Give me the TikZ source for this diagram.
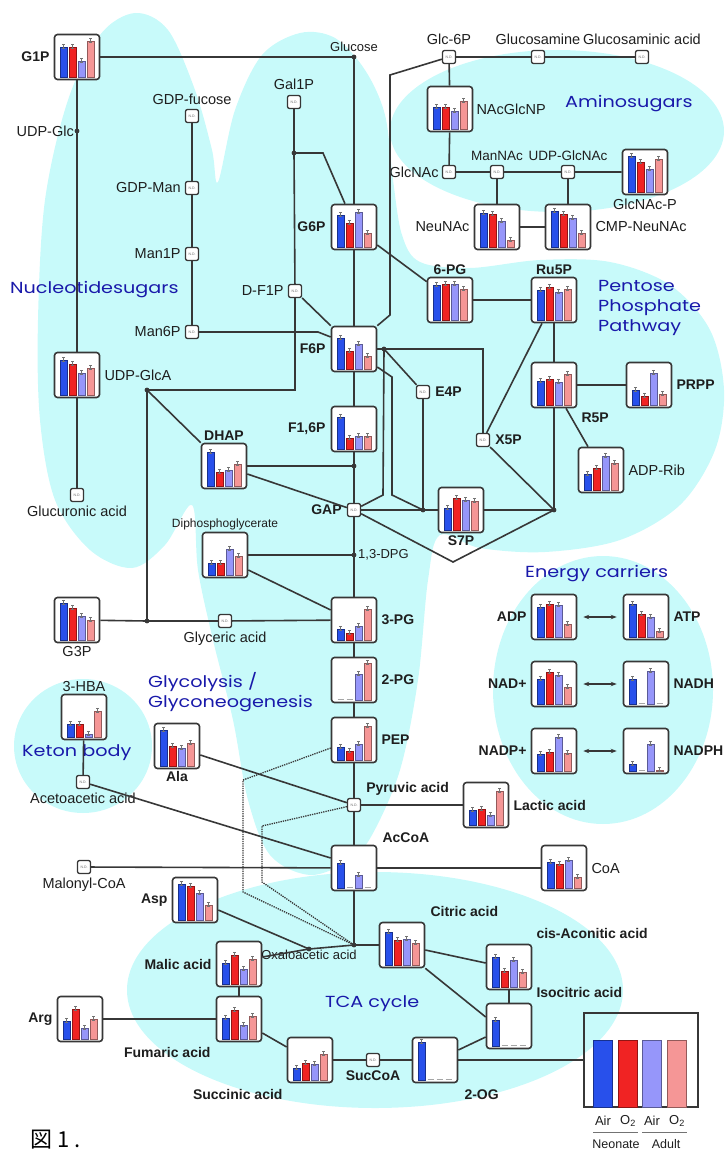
\documentclass[tikz,border=0pt]{standalone}
\usepackage{fontspec}
\setmainfont{Liberation Sans}
\newfontfamily\regionfont[FakeStretch=1.2]{Poppins}
\newfontfamily\jpfont{Noto Sans CJK JP}
\usetikzlibrary{positioning,arrows.meta}

\definecolor{linecol}{RGB}{55,55,55}
\definecolor{txtcol}{RGB}{30,30,30}
\definecolor{bgcyan}{RGB}{200,250,250}
\definecolor{regblue}{RGB}{25,25,170}
\definecolor{barblue}{RGB}{40,80,235}
\definecolor{barred}{RGB}{240,35,35}
\definecolor{barlav}{RGB}{150,150,250}
\definecolor{barpink}{RGB}{245,150,150}

\newcommand{\metbar}[4]{%
  \ifdim #3pt>0pt
    \filldraw[fill=#4, draw=#4!60!black, line width=0.4pt]
      ([xshift=#2pt-3.7pt, yshift=3.5pt]#1.south) rectangle ([xshift=#2pt+3.7pt, yshift=3.5pt+#3pt]#1.south);
    \draw[errbar] ([xshift=#2pt, yshift=1.5pt+#3pt]#1.south) -- ([xshift=#2pt, yshift=6pt+#3pt]#1.south);
  \else
    \draw[zerobar] ([xshift=#2pt-3pt, yshift=4.2pt]#1.south) -- ([xshift=#2pt+3pt, yshift=4.2pt]#1.south);
  \fi}
\newcommand{\metchart}[6]{%
  \node[chartbox] (#1) at (#2) {};
  \metbar{#1}{-13.5}{#3}{barblue}%
  \metbar{#1}{-4.5}{#4}{barred}%
  \metbar{#1}{4.5}{#5}{barlav}%
  \metbar{#1}{13.5}{#6}{barpink}}

\begin{document}
\begin{tikzpicture}[x=1pt, y=-1pt,
  chartbox/.style={draw=linecol, fill=white, rounded corners=3pt, line width=1.6pt, minimum size=45pt, inner sep=0pt},
  ndbox/.style={draw=linecol, fill=white, rounded corners=2pt, line width=1.3pt, minimum size=13pt, inner sep=0pt, font=\fontsize{3.5}{4}\selectfont, text=black!60},
  link/.style={draw=linecol, line width=1.6pt},
  dotline/.style={draw=linecol, line width=1.3pt, densely dotted},
  errbar/.style={draw=black!55, line width=0.4pt, {Bar[width=2.2pt]}-{Bar[width=2.2pt]}},
  zerobar/.style={draw=black!35, line width=0.8pt},
  dot/.style={fill=linecol},
  lab/.style={inner sep=1pt, text=txtcol, font=\fontsize{14.5}{16}\selectfont},
  blab/.style={inner sep=1pt, text=txtcol, font=\fontsize{14}{16}\selectfont\bfseries},
  slab/.style={inner sep=1pt, text=txtcol, font=\fontsize{13}{15}\selectfont},
  tlab/.style={inner sep=1pt, text=txtcol, font=\fontsize{13.5}{15}\selectfont},
  region/.style={text=regblue, font=\regionfont\fontsize{16}{20}\selectfont, align=left, anchor=west, inner sep=0pt},
  blob/.style={fill=bgcyan}]
\useasboundingbox (0,0) rectangle (725,1153);

\fill[blob] plot[smooth cycle, tension=0.55] coordinates {(132,568) (90,550) (55,500) (40,420) (38,320) (45,200) (68,100) (100,35) (135,13) (168,30) (195,90) (212,150) (218,182) (235,110) (262,55) (300,33) (335,38) (365,70) (385,115) (393,180) (402,235) (420,262) (470,268) (540,260) (610,262) (670,285) (710,330) (724,390) (715,450) (680,505) (620,540) (545,552) (480,548) (440,535) (428,580) (418,680) (400,770) (372,835) (350,860) (310,875) (270,855) (248,800) (233,720) (213,640) (198,570) (192,505) (165,545)};
\fill[blob] (557,131) ellipse [x radius=167pt, y radius=81pt];
\fill[blob] (603,690) ellipse [x radius=110pt, y radius=134pt];
\fill[blob] (83,746) ellipse [x radius=69pt, y radius=67pt];
\fill[blob] (375,990) ellipse [x radius=248pt, y radius=118pt];

\coordinate (glc) at (354,57);
\coordinate (udpglc) at (77,131);
\coordinate (gal) at (294,153);
\coordinate (galb) at (323,153);
\coordinate (m6b) at (318,332);
\coordinate (dfb) at (295,390);
\coordinate (dhapj) at (147,390);
\coordinate (g3pj) at (147,621);
\coordinate (f16j) at (354,466);
\coordinate (dpg) at (354,555);
\coordinate (f6pc) at (384,349);
\coordinate (f6pr) at (483,349);
\coordinate (f6b1) at (392,377);
\coordinate (f6b2) at (392,495);
\coordinate (gapb) at (383,495);
\coordinate (e4pj) at (423,510);
\coordinate (r5pj) at (554,510);
\coordinate (triv) at (453,562);
\coordinate (glcb1) at (390,75);
\coordinate (glcb2) at (390,315);
\coordinate (pepb1) at (243,780);
\coordinate (pepb2) at (243,892);
\coordinate (pyrb1) at (262,826);
\coordinate (pyrb2) at (262,882);
\coordinate (oaa) at (354,945);
\coordinate (oaa2) at (309,949);

\metchart{G1P}{77,57}{30}{30}{16}{36}
\metchart{UDPGlcA}{77,375}{35}{31}{22}{27}
\metchart{DHAP}{224,466}{34}{14}{16}{22}
\metchart{DPG}{225,555}{12}{12}{26}{19}
\metchart{G3P}{77,620}{37}{32}{24}{20}
\metchart{HBA}{84,717}{13}{13}{3}{26}
\metchart{Ala}{177,746}{36}{20}{18}{23}
\metchart{G6P}{354,227}{32}{24}{35}{14}
\metchart{NAcGlcNP}{450,109}{22}{22}{18}{28}
\metchart{F6P}{354,349}{31}{18}{25}{13}
\metchart{F16P}{354,429}{32}{11}{13}{13}
\metchart{S7P}{461,510}{22}{32}{30}{29}
\metchart{PG6}{450,300}{35}{36}{36}{31}
\metchart{Ru5P}{554,300}{30}{33}{28}{31}
\metchart{R5P}{554,385}{24}{26}{23}{31}
\metchart{PRPP}{649,385}{15}{9}{32}{11}
\metchart{ADPRib}{601,470}{16}{22}{34}{27}
\metchart{NeuNAc}{497,227}{34}{33}{26}{7}
\metchart{CMPNeuNAc}{568,227}{36}{33}{29}{14}
\metchart{GlcNAcP}{645,172}{36}{30}{23}{33}
\metchart{PG3}{354,620}{11}{7}{14}{31}
\metchart{PG2}{354,680}{0}{0}{26}{37}
\metchart{PEP}{354,740}{13}{9}{16}{34}
\metchart{AcCoA}{354,868}{25}{0}{13}{0}
\metchart{Lactic}{486,805}{15}{16}{10}{34}
\metchart{CoA}{564,868}{26}{24}{28}{11}
\metchart{ADP}{554,617}{30}{33}{32}{13}
\metchart{ATP}{646,617}{33}{23}{20}{6}
\metchart{NAD}{554,684}{25}{32}{29}{17}
\metchart{NADH}{646,684}{25}{0}{33}{0}
\metchart{NADP}{554,751}{17}{19}{34}{18}
\metchart{NADPH}{646,751}{7}{0}{27}{1}
\metchart{Asp}{195,900}{36}{34}{27}{15}
\metchart{Malic}{239,964}{21}{29}{15}{25}
\metchart{Fumaric}{239,1019}{21}{29}{14}{23}
\metchart{Arg}{80,1019}{18}{30}{11}{20}
\metchart{Succinic}{310,1060}{12}{17}{16}{26}
\metchart{OG}{435,1060}{38}{0}{0}{0}
\metchart{Citric}{402,945}{33}{25}{26}{22}
\metchart{cisAco}{509,967}{30}{16}{27}{15}
\metchart{Isocitric}{509,1026}{26}{0}{0}{0}

\node[ndbox] (GDPfuc) at (192,116) {N.D.};
\node[ndbox] (GDPMan) at (192,188) {N.D.};
\node[ndbox] (Man1P) at (192,254) {N.D.};
\node[ndbox] (Man6P) at (192,332) {N.D.};
\node[ndbox] (Gal1P) at (294,102) {N.D.};
\node[ndbox] (DF1P) at (295,291) {N.D.};
\node[ndbox] (Glc6P) at (449,57) {N.D.};
\node[ndbox] (Glcsamine) at (538,57) {N.D.};
\node[ndbox] (Glcsaminic) at (642,57) {N.D.};
\node[ndbox] (GlcNAc) at (449,172) {N.D.};
\node[ndbox] (ManNAc) at (497,172) {N.D.};
\node[ndbox] (UDPGlcNAc) at (568,172) {N.D.};
\node[ndbox] (E4P) at (423,392) {N.D.};
\node[ndbox] (X5P) at (483,440) {N.D.};
\node[ndbox] (GAP) at (354,510) {N.D.};
\node[ndbox] (Glucuronic) at (77,495) {N.D.};
\node[ndbox] (Glyceric) at (225,621) {N.D.};
\node[ndbox] (Acetoacetic) at (83,782) {N.D.};
\node[ndbox] (Pyruvic) at (354,805) {N.D.};
\node[ndbox] (Malonyl) at (84,867) {N.D.};
\node[ndbox] (SucCoA) at (373,1060) {N.D.};

\node[draw=linecol, line width=1.4pt, minimum width=114pt, minimum height=94pt, inner sep=0pt] (legend) at (641,1060) {};
\foreach \c [count=\i from 0] in {barblue,barred,barlav,barpink}
  \filldraw[fill=\c, draw=\c!60!black, line width=0.6pt] ([xshift=10pt+\i*24.5pt]legend.south west) rectangle ++(19pt,67pt);

\node[blab, left=3pt of G1P] (G1Pl) {G1P};
\node[slab, above=4pt of glc] (glcl) {Glucose};
\node[lab, left=2pt of udpglc] (udpglcl) {UDP-Glc};
\node[lab, right=3pt of UDPGlcA] (UDPGlcAl) {UDP-GlcA};
\node[lab, below=3pt of Glucuronic] (Glucuronicl) {Glucuronic acid};
\node[lab, above=3pt of GDPfuc] (GDPfucl) {GDP-fucose};
\node[lab, left=3pt of GDPMan] (GDPManl) {GDP-Man};
\node[lab, left=3pt of Man1P] (Man1Pl) {Man1P};
\node[lab, left=3pt of Man6P] (Man6Pl) {Man6P};
\node[lab, above=4pt of Gal1P] (Gal1Pl) {Gal1P};
\node[lab, left=3pt of DF1P] (DF1Pl) {D-F1P};
\node[blab, above=1pt of DHAP] (DHAPl) {DHAP};
\node[inner sep=1pt, text=txtcol, font=\fontsize{12}{14}\selectfont, above=1pt of DPG] (DPGl) {Diphosphoglycerate};
\node[lab, below=2pt of G3P] (G3Pl) {G3P};
\node[lab, below=3pt of Glyceric] (Glycericl) {Glyceric acid};
\node[lab, above=1pt of HBA] (HBAl) {3-HBA};
\node[lab, below=3pt of Acetoacetic] (Acetoaceticl) {Acetoacetic acid};
\node[blab, below=1pt of Ala] (Alal) {Ala};
\node[lab, below=3pt of Malonyl] (Malonyll) {Malonyl-CoA};
\node[blab, left=4pt of G6P] (G6Pl) {G6P};
\node[blab, left=4pt of F6P] (F6Pl) {F6P};
\node[blab, left=4pt of F16P] (F16Pl) {F1,6P};
\node[blab, left=4pt of GAP] (GAPl) {GAP};
\node[slab, right=3pt of dpg] (dpgl) {1,3-DPG};
\node[blab, right=3pt of PG3] (PG3l) {3-PG};
\node[blab, right=3pt of PG2] (PG2l) {2-PG};
\node[blab, right=3pt of PEP] (PEPl) {PEP};
\node[blab, above right=1pt and 4pt of Pyruvic.north east] (Pyruvicl) {Pyruvic acid};
\node[blab, right=3pt of Lactic] (Lacticl) {Lactic acid};
\node[blab, above right=1pt and 4pt of AcCoA.north east] (AcCoAl) {AcCoA};
\node[lab, right=3pt of CoA] (CoAl) {CoA};
\node[lab, above=4pt of Glc6P] (Glc6Pl) {Glc-6P};
\node[lab, above=4pt of Glcsamine] (Glcsaminel) {Glucosamine};
\node[lab, above=4pt of Glcsaminic] (Glcsaminicl) {Glucosaminic acid};
\node[lab, right=2pt of NAcGlcNP] (NAcGlcNPl) {NAcGlcNP};
\node[lab, left=2pt of GlcNAc] (GlcNAcl) {GlcNAc};
\node[tlab, above=3pt of ManNAc] (ManNAcl) {ManNAc};
\node[tlab, above=3pt of UDPGlcNAc] (UDPGlcNAcl) {UDP-GlcNAc};
\node[lab, below=2pt of GlcNAcP] (GlcNAcPl) {GlcNAc-P};
\node[lab, left=3pt of NeuNAc] (NeuNAcl) {NeuNAc};
\node[lab, right=3pt of CMPNeuNAc] (CMPNeuNAcl) {CMP-NeuNAc};
\node[blab, above=1pt of PG6] (PG6l) {6-PG};
\node[blab, above=1pt of Ru5P] (Ru5Pl) {Ru5P};
\node[blab, below right=3pt and 3pt of R5P.south east] (R5Pl) {R5P};
\node[blab, right=3pt of PRPP] (PRPPl) {PRPP};
\node[lab, right=3pt of ADPRib] (ADPRibl) {ADP-Rib};
\node[blab, right=4pt of E4P] (E4Pl) {E4P};
\node[blab, right=4pt of X5P] (X5Pl) {X5P};
\node[blab, below=1pt of S7P] (S7Pl) {S7P};
\node[blab, left=3pt of ADP] (ADPl) {ADP};
\node[blab, right=3pt of ATP] (ATPl) {ATP};
\node[blab, left=3pt of NAD] (NADl) {NAD+};
\node[blab, right=3pt of NADH] (NADHl) {NADH};
\node[blab, left=3pt of NADP] (NADPl) {NADP+};
\node[blab, right=3pt of NADPH] (NADPHl) {NADPH};
\node[blab, left=3pt of Asp] (Aspl) {Asp};
\node[blab, left=3pt of Malic] (Malicl) {Malic acid};
\node[blab, below left=4pt and 4pt of Fumaric.south west] (Fumaricl) {Fumaric acid};
\node[blab, left=3pt of Arg] (Argl) {Arg};
\node[blab, below left=5pt and 3pt of Succinic.south west] (Succinicl) {Succinic acid};
\node[blab, below=2pt of SucCoA] (SucCoAl) {SucCoA};
\node[blab, below right=5pt and 5pt of OG.south east] (OGl) {2-OG};
\node[slab, below=0pt of oaa2] (oaal) {Oxaloacetic acid};
\node[blab, above right=4pt and 4pt of Citric.north east] (Citricl) {Citric acid};
\node[blab, above right=4pt and 3pt of cisAco.north east] (cisAcol) {cis-Aconitic acid};
\node[blab, above right=4pt and 3pt of Isocitric.north east] (Isocitricl) {Isocitric acid};

\node[region] (nucl) at (10,290) {Nucleotidesugars};
\node[region] (amino) at (565,104) {Aminosugars};
\node[region] (ppp) at (598,308) {Pentose\\Phosphate\\Pathway};
\node[region] (energy) at (525,574) {Energy carriers};
\node[region] (glyco) at (148,692) {Glycolysis /\\Glyconeogenesis};
\node[region] (keton) at (22,753) {Keton body};
\node[region] (tca) at (325,1004) {TCA cycle};

\draw[link] (G1P) -- (glc) -- (G6P);
\draw[link] (G1P) -- (udpglc) -- (UDPGlcA) -- (Glucuronic);
\draw[link] (GDPfuc) -- (GDPMan) -- (Man1P) -- (Man6P);
\draw[link] (Man6P) -- (m6b) -- ([yshift=12pt]F6P.west);
\draw[link] (Gal1P) -- (gal) -- (DF1P) -- (dfb) -- (dhapj) -- (g3pj);
\draw[link] (gal) -- (galb) -- ([xshift=-9pt]G6P.north);
\draw[link] (DF1P) -- (F6P.north west);
\draw[link] (dhapj) -- (DHAP.north west);
\draw[link] (DHAP) -- (f16j);
\draw[link] ([yshift=-8pt]DHAP.east) -- (GAP);
\draw[link] (G6P) -- (F6P) -- (F16P) -- (f16j) -- (GAP) -- (dpg) -- (PG3) -- (PG2) -- (PEP) -- (Pyruvic) -- (AcCoA) -- (oaa);
\draw[link] (DPG) -- (dpg);
\draw[link] ([yshift=-15pt]DPG.east) -- ([yshift=10pt]PG3.west);
\draw[link] (G3P) -- (g3pj) -- (Glyceric) -- (PG3);
\draw[link] (HBA) -- (Acetoacetic) -- ([yshift=10pt]AcCoA.west);
\draw[link] ([yshift=-9pt]Ala.east) -- (Pyruvic);
\draw[link] (Pyruvic) -- (Lactic);
\draw[link] (Malonyl) -- (AcCoA);
\draw[link] (AcCoA) -- (CoA);
\draw[link] (Glc6P) -- (Glcsamine) -- (Glcsaminic);
\draw[link] (Glc6P) -- (NAcGlcNP) -- (GlcNAc) -- (ManNAc) -- (UDPGlcNAc) -- (GlcNAcP);
\draw[link] (ManNAc) -- (NeuNAc) -- (CMPNeuNAc) -- (UDPGlcNAc);
\draw[link] (Glc6P) -- (glcb1) -- (glcb2) -- (F6P.north east);
\draw[link] ([yshift=-18pt]G6P.east) -- ([yshift=-5pt]PG6.north west);
\draw[link] (PG6) -- (Ru5P) -- (R5P) -- (PRPP);
\draw[link] ([xshift=12pt]R5P.south) -- ([xshift=-13pt]ADPRib.north);
\draw[link] (R5P) -- (r5pj);
\draw[link] (F6P) -- (f6pc) -- (f6pr) -- (X5P);
\draw[link] (GAP) -- (gapb) -- (f6pc) -- (E4P) -- (e4pj);
\draw[link] ([yshift=-18pt]F6P.east) -- (f6b1) -- (f6b2) -- (e4pj);
\draw[link] (GAP) -- (e4pj) -- (S7P) -- (r5pj);
\draw[link] (X5P) -- ([xshift=-12pt]Ru5P.south);
\draw[link] (X5P) -- (r5pj);
\draw[link] (GAP) -- (triv) -- (r5pj);
\draw[dotline] ([yshift=-8pt]PEP.west) -- (pepb1) -- (pepb2) -- (oaa);
\draw[dotline] (Pyruvic) -- (pyrb1) -- (pyrb2) -- (oaa);
\draw[link] (oaa) -- (Citric);
\draw[link] (oaa) -- (oaa2) -- ([yshift=7pt]Malic.east);
\draw[link] ([yshift=-10pt]Asp.east) -- (oaa2);
\draw[link] (Malic) -- (Fumaric);
\draw[link] (Arg) -- (Fumaric);
\draw[link] ([yshift=-14pt]Fumaric.east) -- ([yshift=13pt]Succinic.west);
\draw[link] (Succinic) -- (SucCoA) -- (OG);
\draw[link] ([yshift=10pt]OG.east) -- ([yshift=-11pt]Isocitric.west);
\draw[link] ([yshift=-5pt]Citric.east) -- ([yshift=4pt]cisAco.west);
\draw[link] (Citric.south east) -- ([yshift=9pt]Isocitric.west);
\draw[link] (cisAco) -- (Isocitric);
\draw[link] (OG) -- (legend);
\foreach \a/\b in {ADP/ATP, NAD/NADH, NADP/NADPH}
  \draw[link, line width=1.2pt, {Stealth[length=6pt]}-{Stealth[length=6pt]}, shorten <=6pt, shorten >=6pt] (\a) -- (\b);

\foreach \d in {glc,udpglc,gal,dhapj,g3pj,f16j,dpg,f6pc,e4pj,r5pj,oaa,oaa2}
  \fill[dot] (\d) circle (2.4pt);

\node[slab] (air1) at (603,1121) {Air};
\node[slab] (ox1) at (628,1121) {O\textsubscript{2}};
\node[slab] (air2) at (652,1121) {Air};
\node[slab] (ox2) at (677,1121) {O\textsubscript{2}};
\draw[draw=black!55, line width=1pt] (593,1132) -- (638,1132);
\draw[draw=black!55, line width=1pt] (642,1132) -- (687,1132);
\node[inner sep=1pt, text=txtcol, font=\fontsize{12.5}{14}\selectfont] (neo) at (616,1144) {Neonate};
\node[inner sep=1pt, text=txtcol, font=\fontsize{12.5}{14}\selectfont] (adu) at (666,1144) {Adult};
\node[anchor=west, inner sep=0pt, text=black, font=\jpfont\fontsize{22}{24}\selectfont] (fig) at (30,1140) {図 1 .};
\end{tikzpicture}
\end{document}
